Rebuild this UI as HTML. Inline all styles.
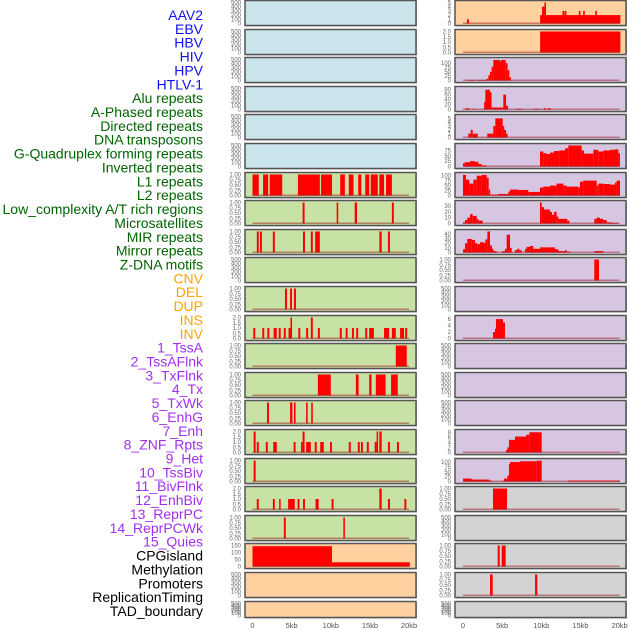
<!DOCTYPE html>
<html><head><meta charset="utf-8"><style>
body{margin:0;background:#fff;}
svg{display:block;font-family:"Liberation Sans",sans-serif;}
</style></head><body>
<svg id="c" width="630" height="630"></svg>
<script>
const labels=["AAV2","EBV","HBV","HIV","HPV","HTLV-1","Alu repeats","A-Phased repeats","Directed repeats","DNA transposons","G-Quadruplex forming repeats","Inverted repeats","L1 repeats","L2 repeats","Low_complexity A/T rich regions","Microsatellites","MIR repeats","Mirror repeats","Z-DNA motifs","CNV","DEL","DUP","INS","INV","1_TssA","2_TssAFlnk","3_TxFlnk","4_Tx","5_TxWk","6_EnhG","7_Enh","8_ZNF_Rpts","9_Het","10_TssBiv","11_BivFlnk","12_EnhBiv","13_ReprPC","14_ReprPCWk","15_Quies","CPGisland","Methylation","Promoters","ReplicationTiming","TAD_boundary"];
const labelGroups=[6,13,5,15,5];
const groupColors=["#1010ee","#006400","#ffa500","#a030f0","#000000"];
const leftBg=["b","b","b","b","b","b","g","g","g","g","g","g","g","g","g","g","g","g","g","o","o","o"];
const rightBg=["o","o","p","p","p","p","p","p","p","p","p","p","p","p","p","p","p","y","y","y","y","y"];
const xTicks=[0,5,10,15,20];
const xTickLabels=["0","5kb","10kb","15kb","20kb"];
const leftMax=[0,0,0,0,0,0,1,1,1,0,1,2,1,1,1,2,1,2,1,150,0,0];
const rightMax=[5,2,121,85,5.5,98,106,36,45,1,0,6.5,0,0,0,8.3,108,1,0,1,1,0];
// segments [startKb,endKb,value]
const L6=[[0,0.8,1],[1.35,2,1],[2.2,3.8,1],[5.8,8.6,1],[8.75,10.15,1],[11.2,11.8,1],[12.3,12.9,1],[13.5,13.9,1],[14.4,14.9,1],[15.1,16,1],[16.2,16.8,1],[17.05,17.8,1]];
const L7=[[6.4,6.65,1],[10.75,10.95,1],[13.05,13.35,1],[17.8,18.05,1]];
const L8=[[0.55,0.8,1],[0.95,1.2,1],[2.6,2.85,1],[6.45,6.7,1],[7.45,7.7,1],[8,8.6,1],[16.2,16.5,1],[17.3,17.55,1]];
const L10=[[4.15,4.4,1],[4.8,5.05,1],[5.3,5.55,1]];
const L11=[[0.1,0.35,1],[1.25,1.5,1],[1.9,2.15,1],[2.7,3.1,1],[3.35,3.6,1],[4,4.25,1],[4.6,5,1],[4.85,5.05,2],[5.85,6.1,1],[6.85,7.1,1],[7.45,7.7,2],[8.35,8.6,1],[11.15,11.4,1],[11.9,12.15,1],[12.7,12.95,1],[13.25,13.5,1],[14.4,14.65,1],[14.9,15.5,1],[16.8,17.45,1],[17.8,18.3,1],[18.85,19.35,1],[19.5,19.75,1]];
const L12=[[18.3,19.7,1]];
const L13=[[8.35,10,1],[13.2,13.55,1],[14.9,15.2,1],[15.75,17,1],[17.7,18.55,1]];
const L14=[[1.85,2.1,1],[4.8,5.1,1],[5.3,5.5,1],[6.85,7.05,1],[7.5,7.7,1]];
const L15=[[0.15,0.4,2],[0.55,0.8,1],[1.7,1.95,1],[2.65,3.1,1],[5.25,5.5,1],[6.2,6.4,1],[6.4,6.65,2],[6.85,7.45,1],[7.95,8.2,1],[8.65,9.1,1],[9.9,10.15,1],[12.3,12.55,1],[13.45,13.7,1],[13.85,14.1,1],[14.6,14.85,1],[15.6,15.85,1],[15.85,16.0,2],[16.2,16.5,2],[17.3,17.55,1],[18.45,18.7,1]];
const L16=[[0.15,0.4,1]];
const L17=[[0.55,0.8,1],[2.6,2.85,1],[3.4,3.6,1],[4.55,5.4,1],[5.75,6,1],[6.45,6.7,1],[8.05,8.45,1],[10.1,10.35,1],[16.2,16.5,2],[17.3,17.55,1],[19.4,19.65,1]];
const L18=[[4,4.25,1],[11.6,11.8,1]];
const L19=[[0,10.15,145],[10.15,20.1,30]];
const R0=[[0.5,0.75,1],[9.85,20.1,2],[10.1,10.4,4],[10.4,10.6,5],[12.7,12.95,3],[13,13.2,3],[14.8,15,3],[15.35,15.55,3],[16.9,17.1,3]];
const R1=[[9.85,20.1,2]];
const R2=[[0.5,1.6,3],[1.9,3.0,3],[3.0,3.24,10],[3.24,3.45,30],[3.45,3.66,50],[3.66,3.88,80],[3.88,4.73,118],[4.73,4.85,110],[4.85,5.45,118],[5.45,5.7,100],[5.7,5.92,60],[5.92,6.1,20]];
const R3=[[0.3,0.8,5],[1.3,1.5,3],[2.7,2.85,30],[2.85,3.45,80],[3.45,3.6,70],[3.6,5.15,8],[5.15,5.5,60],[5.5,5.75,15],[6.8,7.5,3],[9.1,9.75,3],[10.3,10.6,5],[10.8,11.2,5]];
const R4=[[0.68,0.98,1],[0.98,1.24,2],[1.24,1.88,1],[3.1,3.45,1],[3.45,3.87,1],[3.87,4.13,3],[4.13,5.07,5],[5.07,5.24,3],[5.24,5.5,2],[5.5,5.7,1]];
const R5=[[0,0.22,15],[0.22,0.9,20],[0.9,1.53,25],[1.53,1.96,22],[1.96,2.38,12],[2.38,3.0,5],[9.83,10.26,70],[10.26,10.68,62],[10.68,11.11,58],[11.11,11.62,65],[11.62,12.3,72],[12.3,13.03,75],[13.03,13.45,85],[13.45,15.15,98],[15.15,15.45,75],[15.45,16.64,60],[16.64,17.28,78],[17.28,17.92,70],[17.92,18.77,75],[18.77,19.41,78],[19.41,19.84,80],[19.84,20.05,62]];
const R6=[[0,0.38,104],[0.38,0.81,80],[0.81,1.32,60],[1.32,1.75,80],[1.75,2.38,100],[2.38,3.02,104],[3.02,3.28,90],[3.28,3.45,30],[3.45,4.51,5],[4.51,5.79,8],[5.79,6.0,20],[6.0,7.07,30],[7.07,8.34,28],[8.34,9.83,18],[9.83,10.26,40],[10.26,11.11,45],[11.11,11.96,50],[11.96,12.81,60],[12.81,13.24,50],[13.24,14.73,45],[14.73,14.94,40],[14.94,15.37,70],[15.37,17.07,75],[17.07,17.28,50],[17.28,17.92,60],[17.92,18.77,58],[18.77,19.41,55],[19.41,19.62,65],[19.62,20.05,75]];
const R7=[[0,0.26,2],[0.26,0.55,6],[0.55,0.9,10],[0.9,1.24,16],[1.24,1.75,13],[1.75,1.96,8],[1.96,2.51,5],[9.83,10.05,36],[10.05,10.35,28],[10.35,11.11,24],[11.11,11.37,20],[11.37,11.62,15],[11.62,11.96,20],[11.96,12.18,12],[12.18,13.32,8],[13.32,13.58,5],[16.77,17.07,8],[17.07,17.5,10],[17.5,17.92,8],[17.92,18.35,6],[18.35,18.99,2],[18.99,19.84,1]];
const R8=[[0,0.26,7],[0.26,0.55,20],[0.55,1.11,29],[1.11,1.53,27],[1.53,1.83,20],[1.83,2.17,18],[2.17,2.68,22],[2.68,2.85,20],[2.85,3.11,28],[3.11,3.45,45],[3.45,3.7,15],[3.7,3.87,8],[3.87,4.3,3],[5.02,5.36,3],[5.36,5.58,8],[5.58,6.0,38],[6.0,6.22,10],[6.64,6.94,5],[6.94,7.19,8],[7.19,7.49,5],[7.92,8.13,8],[8.13,8.56,12],[8.56,8.98,14],[8.98,9.83,8],[9.83,11.75,11],[11.75,12.18,7],[12.18,13.03,3],[13.03,13.24,5],[13.24,13.67,2],[16.77,17.92,3]];
const R9=[[16.77,17.37,1]];
const R11=[[3.83,4.09,2],[4.09,4.21,3],[4.21,5.11,6],[5.11,5.36,5]];
const R15=[[5.49,5.66,1],[5.66,5.87,2],[5.87,6.64,5],[6.64,8.05,6.3],[8.05,8.47,7],[8.47,10.05,8]];
const R16=[[0,1.11,15],[1.11,3.36,10],[3.36,3.7,5],[4.98,5.24,3],[5.24,5.66,15],[5.66,5.87,30],[5.87,6.0,90],[6.0,7.28,100],[7.28,9.41,104],[9.41,10.05,107],[13.45,20.05,5]];
const R17=[[3.83,5.62,1]];
const R19=[[4.43,4.69,1],[4.94,5.45,1]];
const R20=[[3.45,3.79,1],[9.2,9.49,1]];
const leftSegs={6:L6,7:L7,8:L8,10:L10,11:L11,12:L12,13:L13,14:L14,15:L15,16:L16,17:L17,18:L18,19:L19};
const rightSegs={0:R0,1:R1,2:R2,3:R3,4:R4,5:R5,6:R6,7:R7,8:R8,9:R9,11:R11,15:R15,16:R16,17:R17,19:R19,20:R20};

const NS="http://www.w3.org/2000/svg";
const svg=document.getElementById('c');
const bgColors={b:"#c9e4eb",g:"#c8e1a5",o:"#fed19f",p:"#d6c6e2",y:"#d3d3d3"};
function mk(tag,attrs,parent){const e=document.createElementNS(NS,tag);for(const k in attrs)e.setAttribute(k,attrs[k]);(parent||svg).appendChild(e);return e;}
const KB=7.83;
const cols=[{x0:245,x1:416,z:252.5},{x0:455,x1:626,z:463}];
function tickVals(m){
  if(m===0)return [0,100,200,300,400,500];
  if(m===1)return [0,0.25,0.5,0.75,1];
  if(m===2)return [0,0.5,1,1.5,2];
  if(m===150)return [0,50,100,150];
  if(m===121||m===106||m===108)return [0,25,50,75,100];
  if(m===98)return [0,25,50,75];
  if(m===85)return [0,20,40,60,80];
  if(m===45)return [0,10,20,30,40];
  if(m===36)return [0,10,20,30];
  if(m===6.5)return [0,2,4,6];
  if(m===8.3)return [0,2,4,6,8];
  return [0,1,2,3,4,5];
}
function fmt(v,m){if(m===1)return v.toFixed(2);if(m===2)return v.toFixed(1);return String(v);}
let li=0;
labelGroups.forEach((n,gi)=>{for(let k=0;k<n;k++){
  const t=mk('text',{x:203,y:15+li*13.86+5,'text-anchor':'end','font-size':'14',fill:groupColors[gi]});
  
  
  t.textContent=labels[li];li++;}});
for(let r=0;r<22;r++){
  const top=Math.round(r*28.6)+0.5;const h=r===21?16:25;
  [0,1].forEach(ci=>{
    const c=cols[ci];const bg=ci===0?leftBg[r]:rightBg[r];
    const m=ci===0?leftMax[r]:rightMax[r];const segs=ci===0?leftSegs[r]:rightSegs[r];
    const g=mk('g',{});
    
    
    mk('rect',{x:c.x0+1,y:top+1,width:c.x1-c.x0,height:h,fill:'#aaa'},g);
    mk('rect',{x:c.x0,y:top,width:c.x1-c.x0,height:h,fill:bgColors[bg]},g);
    const mm=m||500;
    const yOf=v=>top+h-2-v/mm*(h-4);
    tickVals(m).forEach(v=>{
      const t=mk('text',{x:c.x0-4,y:yOf(v)+2,'text-anchor':'end','font-size':'6',fill:'#666'},g);
      
      
      t.textContent=fmt(v,m);
    });
    if(segs){
      segs.forEach(s=>{
        const x=c.z+s[0]*KB,w=Math.max(1.5,(s[1]-s[0])*KB);const y=yOf(s[2]);
        const b=mk('rect',{x:x,y:y,width:w,height:top+h-2-y,fill:'#ff0000'},g);
        
        
      });
      mk('rect',{x:c.z,y:top+h-3,width:20*KB,height:1.5,fill:'#a02020',opacity:0.5},g);
    }
    mk('rect',{x:c.x0,y:top,width:c.x1-c.x0,height:h,fill:'none',stroke:'#555','stroke-width':1.5},g);
  });
}
[0,1].forEach(ci=>{xTicks.forEach((v,i)=>{
  const t=mk('text',{x:cols[ci].z+v*KB,y:628,'text-anchor':'middle','font-size':'7.5',fill:'#555'});
  
  
  t.textContent=xTickLabels[i];});});
</script>
</body></html>
